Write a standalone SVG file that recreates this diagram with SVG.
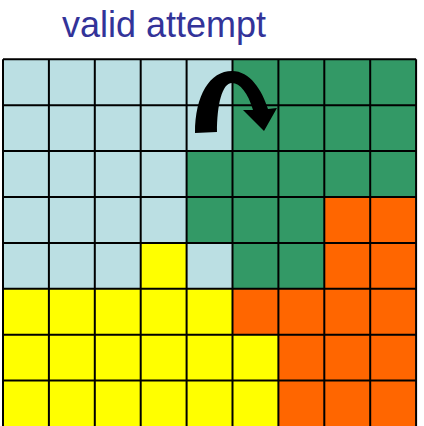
<svg xmlns="http://www.w3.org/2000/svg" width="424" height="426" viewBox="0 0 424 426">
<style>
.blue{fill:#BBDFE3}
.green{fill:#339966}
.orange{fill:#FF6600}
.yellow{fill:#FFFF00}
.grid{fill:none;stroke:#000;stroke-width:2}
.title{font-family:"Liberation Sans",Arial,sans-serif;font-size:36px;fill:#333399}
</style>
<rect width="424" height="426" fill="#fff"/>
<text id="title" class="title" x="62" y="37">valid attempt</text>
<g id="regions">
<g id="blue-region" class="blue">
<rect x="3" y="59.3" width="229.5" height="91.8"/>
<rect x="3" y="151.1" width="183.6" height="91.8"/>
<rect x="3" y="242.9" width="137.7" height="45.9"/>
<rect x="186.6" y="242.9" width="45.9" height="45.9"/>
</g>
<g id="green-region" class="green">
<rect x="232.5" y="59.3" width="183.6" height="91.8"/>
<rect x="186.6" y="151.1" width="229.5" height="45.9"/>
<rect x="186.6" y="197" width="137.7" height="45.9"/>
<rect x="232.5" y="242.9" width="91.8" height="45.9"/>
</g>
<g id="orange-region" class="orange">
<rect x="324.3" y="197" width="91.8" height="91.8"/>
<rect x="232.5" y="288.8" width="183.6" height="45.9"/>
<rect x="278.4" y="334.7" width="137.7" height="91.8"/>
</g>
<g id="yellow-region" class="yellow">
<rect x="140.7" y="242.9" width="45.9" height="45.9"/>
<rect x="3" y="288.8" width="229.5" height="45.9"/>
<rect x="3" y="334.7" width="275.4" height="91.8"/>
</g>
</g>
<path id="grid" class="grid" d="M3,59.3V426.5M48.9,59.3V426.5M94.8,59.3V426.5M140.7,59.3V426.5M186.6,59.3V426.5M232.5,59.3V426.5M278.4,59.3V426.5M324.3,59.3V426.5M370.2,59.3V426.5M416.1,59.3V426.5M3,59.3H416.1M3,105.2H416.1M3,151.1H416.1M3,197H416.1M3,242.9H416.1M3,288.8H416.1M3,334.7H416.1M3,380.6H416.1"/>
<g id="connectors">
<path id="arrow" fill="#000" d="M195,133 C195,95 210,71 232,71 C250,71 262,90 268,109 L277,108 L264,131 L243,110 L253,110 C248,93 240,83 232,83 C222,83 217,105 217,132 Z"/>
</g>
</svg>
